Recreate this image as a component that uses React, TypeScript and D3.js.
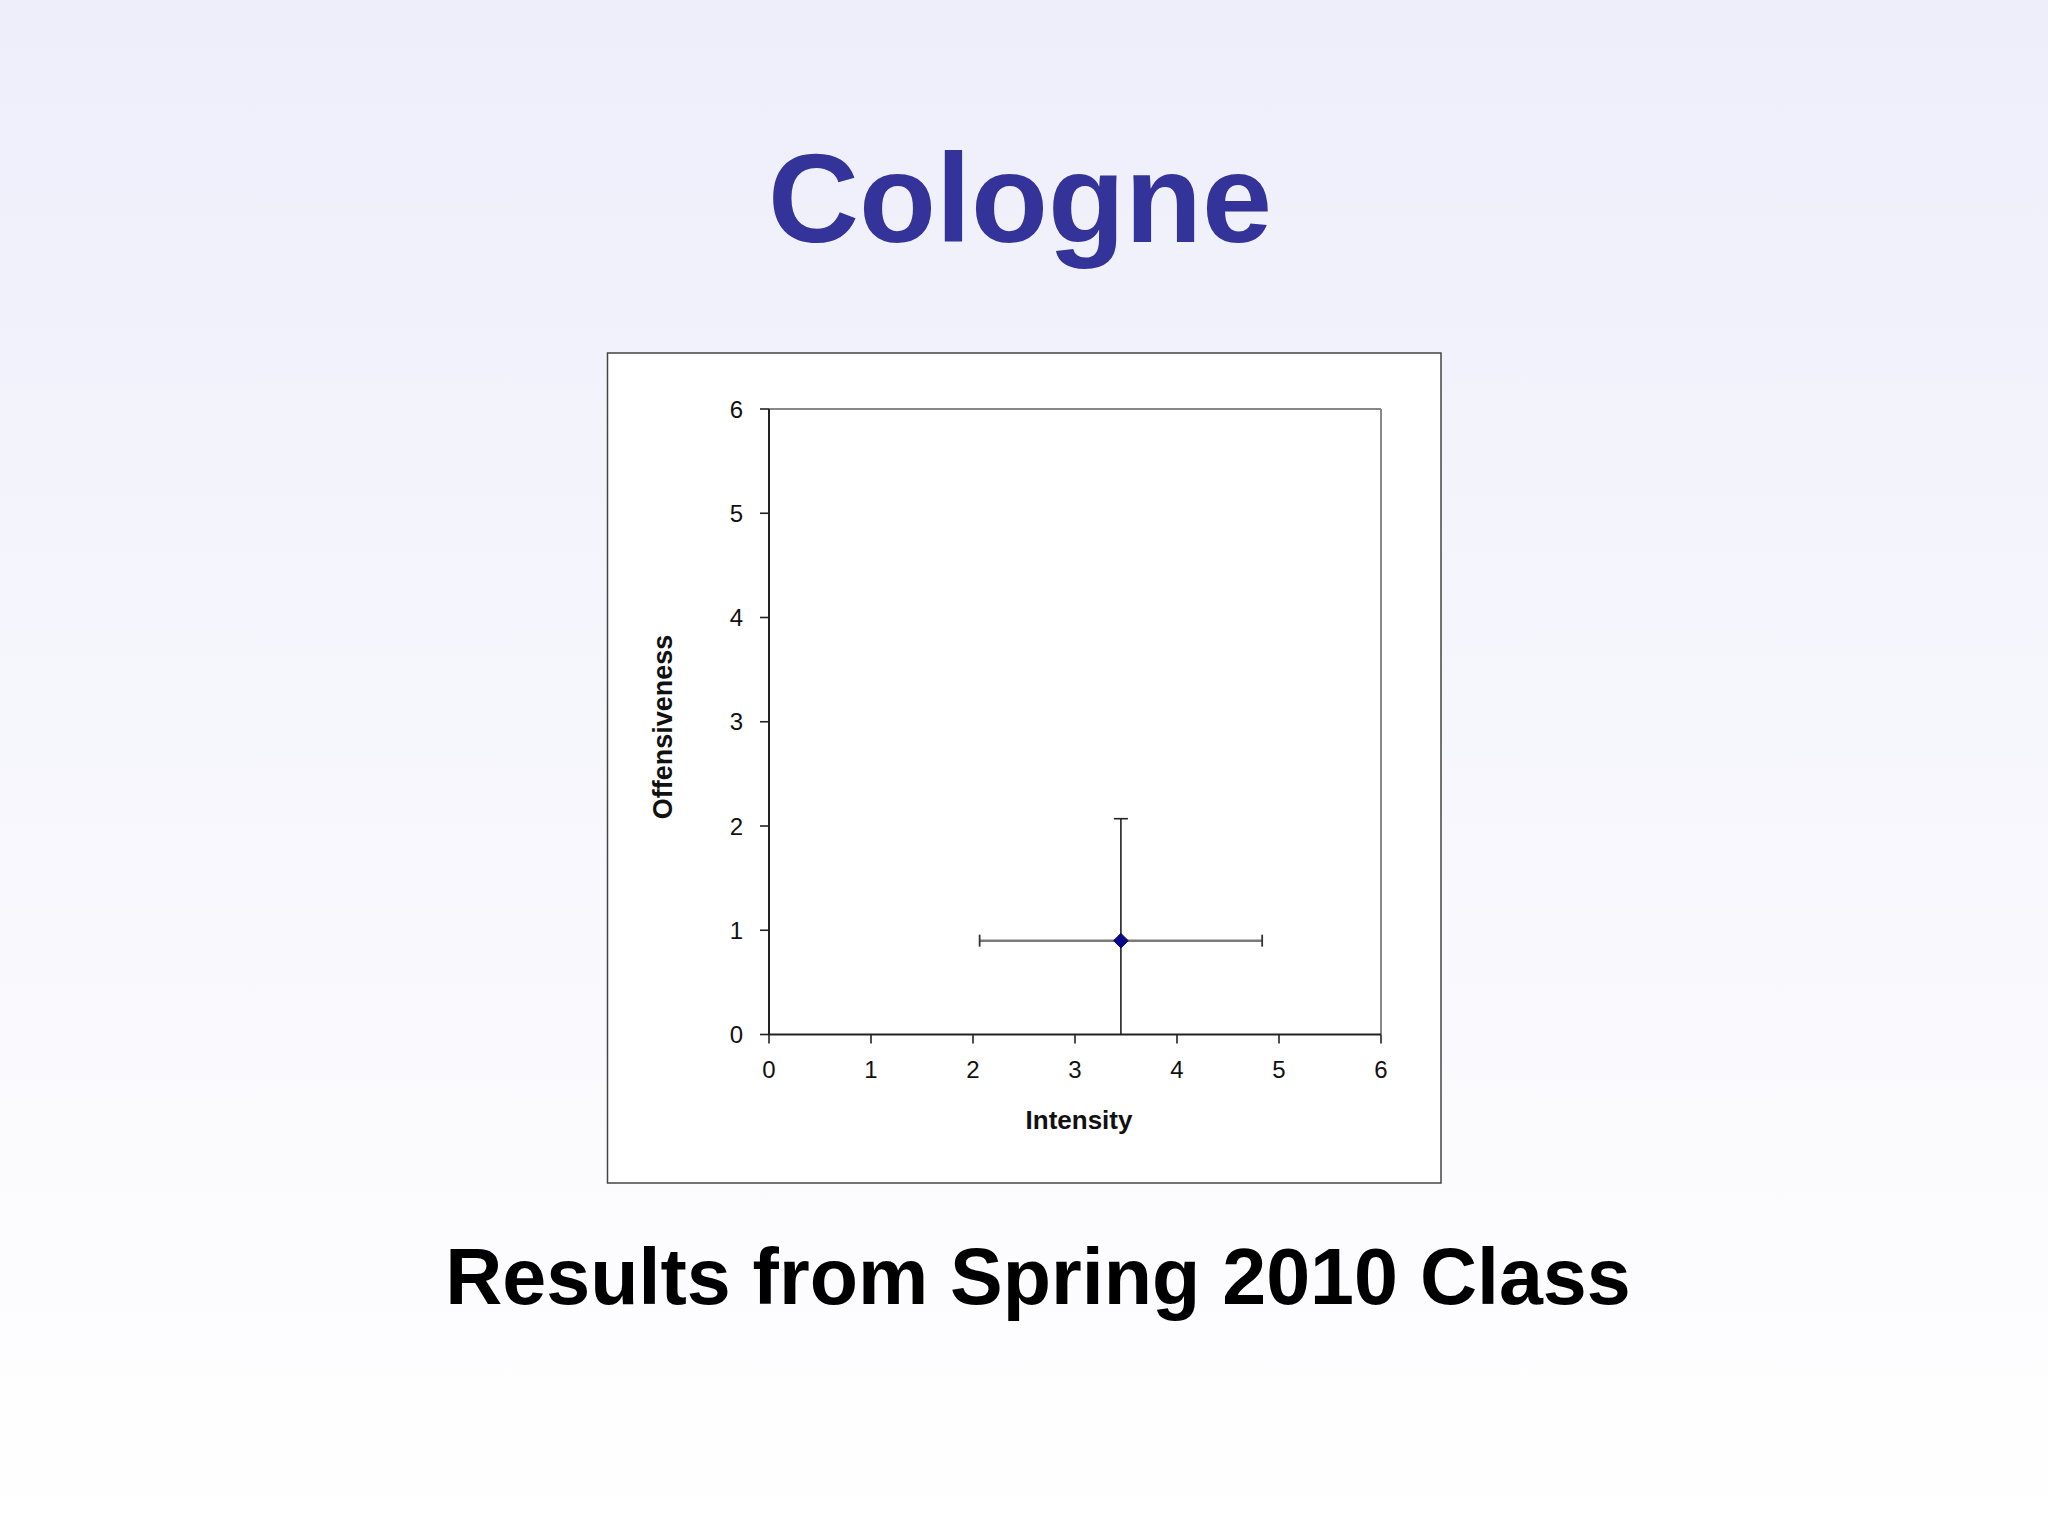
import React from "react";
import * as d3 from "d3";

const titleText = "Cologne";
const subtitleText = "Results from Spring 2010 Class";
const xLabel = "Intensity";
const yLabel = "Offensiveness";
const xTicks = [0, 1, 2, 3, 4, 5, 6];
const yTicks = [0, 1, 2, 3, 4, 5, 6];
const intensityMean = [3.45];
const offensivenessMean = [0.9];
const intensityErr = [1.385];
const offensivenessErr = [1.17];

const W = 2048;
const H = 1536;
const box = { x: 607.5, y: 353, w: 833.5, h: 830 };
const plot = { left: 769, right: 1381, top: 409, bottom: 1034.5 };

export default function App() {
  const x = d3.scaleLinear().domain([0, 6]).range([plot.left, plot.right]);
  const y = d3.scaleLinear().domain([0, 6]).range([plot.bottom, plot.top]);
  const font = "'Liberation Sans', Arial, sans-serif";
  const diamond = d3.symbol().type(d3.symbolDiamond2 || d3.symbolDiamond).size(135)();
  const points = intensityMean.map((v, i) => ({
    x: v,
    y: offensivenessMean[i],
    ex: intensityErr[i],
    ey: offensivenessErr[i],
  }));
  return (
    <svg
      width={W}
      height={H}
      style={{ position: "absolute", left: 0, top: 0, display: "block" }}
    >
      <defs>
        <linearGradient id="bg" x1="0" y1="0" x2="0" y2="1">
          <stop offset="0" stopColor="#eeeefb" />
          <stop offset="0.75" stopColor="#fbfbfe" />
          <stop offset="1" stopColor="#ffffff" />
        </linearGradient>
        <clipPath id="plotClip">
          <rect x={plot.left} y={plot.top - 20} width={plot.right - plot.left + 20} height={plot.bottom - plot.top + 20} />
        </clipPath>
      </defs>
      <rect x={0} y={0} width={W} height={H} fill="url(#bg)" />
      <text
        x={1020}
        y={242}
        textAnchor="middle"
        fontFamily={font}
        fontWeight="bold"
        fontSize={126}
        fill="#333399"
      >
        {titleText}
      </text>
      <rect x={box.x} y={box.y} width={box.w} height={box.h} fill="#ffffff" stroke="#444444" strokeWidth={1.5} />
      {/* frame top and right */}
      <line x1={plot.left} x2={plot.right} y1={plot.top} y2={plot.top} stroke="#888888" strokeWidth={2} />
      <line x1={plot.right} x2={plot.right} y1={plot.top} y2={plot.bottom} stroke="#888888" strokeWidth={2} />
      {/* error bars */}
      <g clipPath="url(#plotClip)">
        {points.map((p, i) => (
          <g key={i}>
            <line x1={x(p.x - p.ex)} x2={x(p.x + p.ex)} y1={y(p.y)} y2={y(p.y)} stroke="#7a7a7a" strokeWidth={2.6} />
            <line x1={x(p.x - p.ex)} x2={x(p.x - p.ex)} y1={y(p.y) - 6} y2={y(p.y) + 6} stroke="#333" strokeWidth={1.8} />
            <line x1={x(p.x + p.ex)} x2={x(p.x + p.ex)} y1={y(p.y) - 6} y2={y(p.y) + 6} stroke="#333" strokeWidth={1.8} />
            <line x1={x(p.x)} x2={x(p.x)} y1={y(p.y + p.ey)} y2={y(Math.max(0, p.y - p.ey))} stroke="#222" strokeWidth={1.6} />
            <line x1={x(p.x) - 7} x2={x(p.x) + 7} y1={y(p.y + p.ey)} y2={y(p.y + p.ey)} stroke="#222" strokeWidth={1.6} />
          </g>
        ))}
      </g>
      {/* axes */}
      <line x1={plot.left} x2={plot.left} y1={plot.top} y2={plot.bottom} stroke="#222" strokeWidth={2} />
      <line x1={plot.left} x2={plot.right} y1={plot.bottom} y2={plot.bottom} stroke="#222" strokeWidth={2} />
      {yTicks.map((t) => (
        <g key={"y" + t}>
          <line x1={plot.left - 9} x2={plot.left} y1={y(t)} y2={y(t)} stroke="#222" strokeWidth={1.6} />
          <text x={743} y={y(t) + 8.5} textAnchor="end" fontFamily={font} fontSize={24} fill="#111">
            {t}
          </text>
        </g>
      ))}
      {xTicks.map((t) => (
        <g key={"x" + t}>
          <line x1={x(t)} x2={x(t)} y1={plot.bottom} y2={plot.bottom + 9} stroke="#222" strokeWidth={1.6} />
          <text x={x(t)} y={1078} textAnchor="middle" fontFamily={font} fontSize={24} fill="#111">
            {t}
          </text>
        </g>
      ))}
      <text x={(plot.left + plot.right) / 2 + 4} y={1129} textAnchor="middle" fontFamily={font} fontWeight="bold" fontSize={26} fill="#111">
        {xLabel}
      </text>
      <text
        transform={`translate(672, 727) rotate(-90)`}
        textAnchor="middle"
        fontFamily={font}
        fontWeight="bold"
        fontSize={27}
        fill="#111"
      >
        {yLabel}
      </text>
      {points.map((p, i) => (
        <path key={"pt" + i} d={diamond} transform={`translate(${x(p.x)},${y(p.y)})`} fill="#0a0a8a" stroke="#000066" strokeWidth={1} />
      ))}
      <text x={1038} y={1304} textAnchor="middle" fontFamily={font} fontWeight="bold" fontSize={79} fill="#000000">
        {subtitleText}
      </text>
    </svg>
  );
}
